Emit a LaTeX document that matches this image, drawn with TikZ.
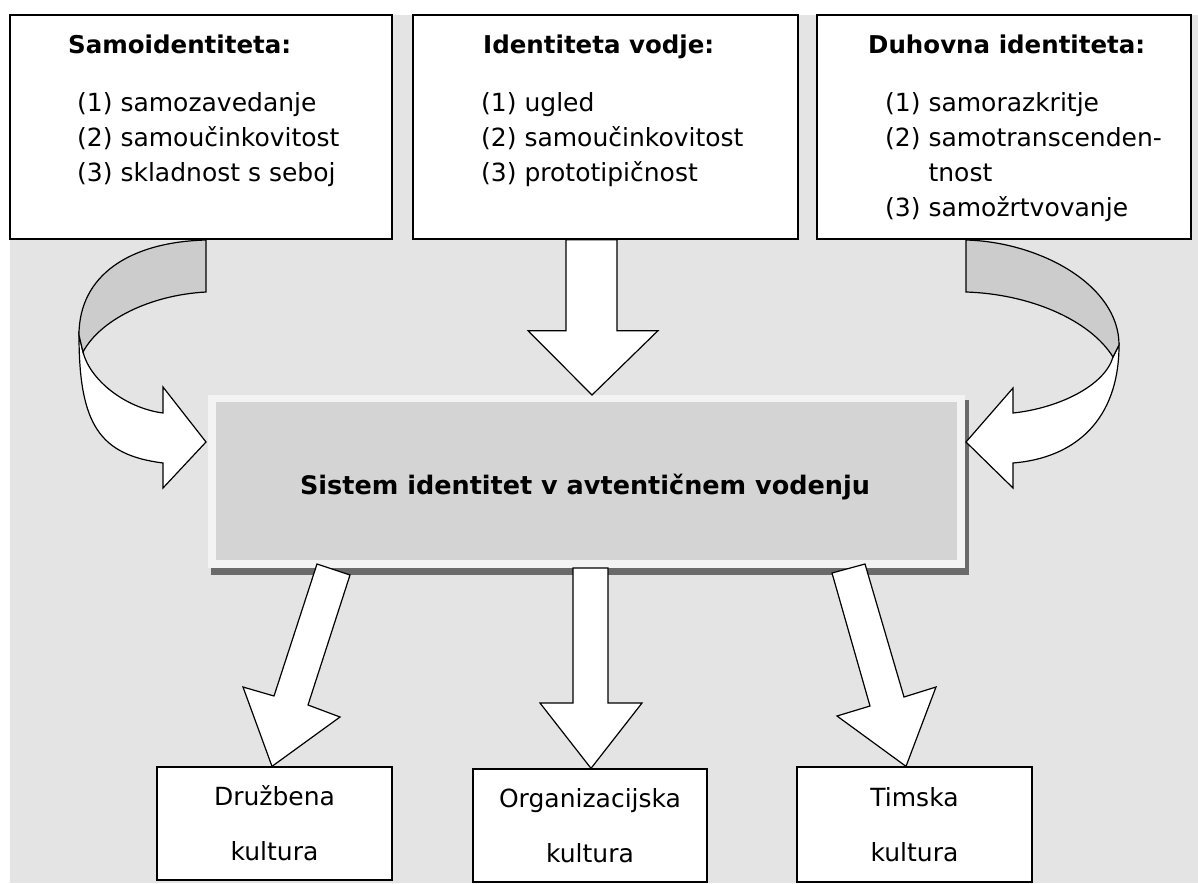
\documentclass[tikz,border=0pt]{standalone}
\usepackage{fontspec}
\setmainfont{DejaVu Sans}
\usetikzlibrary{calc}
\definecolor{bg}{HTML}{E4E4E4}
\definecolor{band}{HTML}{CCCCCC}
\definecolor{core}{HTML}{D4D4D4}
\definecolor{rim}{HTML}{F3F3F3}
\definecolor{dropgray}{HTML}{6A6A6A}
\begin{document}
\begin{tikzpicture}[x=1pt,y=-1pt,
  card/.style={draw=black, line width=1.3pt, fill=white, inner sep=0pt},
  blockarrow/.style={draw=black, line width=1.2pt, fill=white, line join=miter},
  twist/.style={draw=black, line width=1.2pt, fill=band, line join=miter},
  heading/.style={font=\bfseries\fontsize{24.5}{29}\selectfont, anchor=base west, inner sep=0pt},
  entry/.style={font=\fontsize{25}{30}\selectfont, anchor=base west, inner sep=0pt},
  culture/.style={card, font=\fontsize{25}{55}\selectfont, align=center},
]
\useasboundingbox (0,0) rectangle (1198,883);
\fill[bg] (10,15) rectangle (1198,883);

% --- three identity cards ---
\node[card, minimum width=382pt, minimum height=224pt] (self) at (201,127) {};
\node[card, minimum width=385pt, minimum height=224pt] (lead) at (605.5,127) {};
\node[card, minimum width=374pt, minimum height=224pt] (spirit) at (1004,127) {};

\node[heading] (selfT) at (68,53) {Samoidentiteta:};
\node[entry] (s1) at (77,111) {(1) samozavedanje};
\node[entry] (s2) at (77,146) {(2) samoučinkovitost};
\node[entry] (s3) at (77,181) {(3) skladnost s seboj};

\node[heading] (leadT) at (483,54) {Identiteta vodje:};
\node[entry] (l1) at (481,111) {(1) ugled};
\node[entry] (l2) at (481,146) {(2) samoučinkovitost};
\node[entry] (l3) at (481,181) {(3) prototipičnost};

\node[heading] (spiritT) at (868,53) {Duhovna identiteta:};
\node[entry] (d1) at (885,111) {(1) samorazkritje};
\node[entry] (d2) at (885,146) {(2) samotranscenden-};
\node[entry] (d2b) at (885,181) {\phantom{(2) }tnost};
\node[entry] (d3) at (885,216) {(3) samožrtvovanje};

% --- central system box with light rim and drop shadow ---
\fill[dropgray] (211,400) rectangle (969,575);
\fill[rim] (208,395) rectangle (965,568);
\node[fill=core, minimum width=741pt, minimum height=158pt, inner sep=0pt] (sys) at (586.5,481) {};
\node[font=\bfseries\fontsize{25.5}{30}\selectfont, inner sep=0pt] (sysT) at (585,487) {Sistem identitet v avtentičnem vodenju};

% --- straight arrow from the leader card ---
\coordinate (la) at (lead.south);
\draw[blockarrow] ($(la)+(-39.5,0)$) -- ($(la)+(-39.5,91)$) -- ($(la)+(-77.5,91)$)
  -- (592,395) -- ($(la)+(52.5,91)$) -- ($(la)+(11.5,91)$) -- ($(la)+(11.5,0)$) -- cycle;

% --- curved ribbon arrow on the left ---
\draw[blockarrow] (79,335) .. controls (79,425) and (100,455) .. (163,463)
  -- (163,488) -- (206,442) -- (163,387) -- (163,413)
  .. controls (125,408) and (90,380) .. (83,352) -- cycle;
\draw[twist] (206,240) .. controls (130,242) and (79,275) .. (79,335)
  -- (83,352) .. controls (100,320) and (150,295) .. (206,292) -- cycle;

% --- curved ribbon arrow on the right ---
\draw[blockarrow] (1119,345) .. controls (1119,420) and (1075,458) .. (1013,463)
  -- (1013,488) -- (966,442) -- (1013,388) -- (1013,413)
  .. controls (1060,408) and (1105,385) .. (1113,357) -- cycle;
\draw[twist] (966,240) .. controls (1040,242) and (1119,285) .. (1119,345)
  -- (1113,357) .. controls (1090,320) and (1030,294) .. (966,292) -- cycle;

% --- culture boxes ---
\node[culture, minimum width=235pt, minimum height=113pt] (soc) at (274.5,823.5) {Družbena\\kultura};
\node[culture, minimum width=234pt, minimum height=113pt] (org) at (590,825.5) {Organizacijska\\kultura};
\node[culture, minimum width=235pt, minimum height=115pt] (team) at (914.5,824.5) {Timska\\kultura};

% --- arrows from the system box down to the cultures ---
\draw[blockarrow] (317,564) -- (274,696) -- (243,687) -- (soc.north -| 272,0)
  -- (340,717) -- (308,705) -- (350,575) -- cycle;
\draw[blockarrow] (573,568) -- (573,703) -- (540,703) -- (org.north -| 591,0)
  -- (642,703) -- (608,703) -- (608,568) -- cycle;
\draw[blockarrow] (832,573) -- (870,706) -- (837,716) -- (team.north -| 906,0)
  -- (936,687) -- (904,697) -- (865,564) -- cycle;
\end{tikzpicture}
\end{document}
